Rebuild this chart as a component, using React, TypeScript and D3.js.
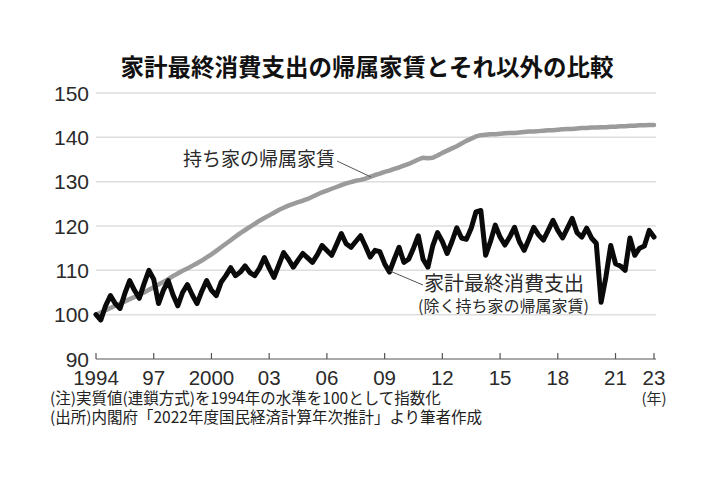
import * as d3 from "d3";
import React from "react";

// 四半期データ（1994年Q1〜2023年Q1）、1994年=100
const startYear = 1994;

const imputedRent = [
  100.0, 100.5, 101.0, 101.5,
  102.0, 102.5, 103.0, 103.5,
  104.0, 104.5, 105.0, 105.6,
  106.2, 106.8, 107.4, 108.0,
  108.7, 109.3, 109.9, 110.4,
  111.0, 111.6, 112.2, 112.9,
  113.6, 114.4, 115.2, 116.0,
  116.8, 117.6, 118.4, 119.1,
  119.8, 120.5, 121.2, 121.8,
  122.4, 123.0, 123.6, 124.1,
  124.6, 125.0, 125.4, 125.7,
  126.1, 126.6, 127.1, 127.6,
  128.0, 128.4, 128.8, 129.2,
  129.6, 129.9, 130.2, 130.4,
  130.7, 131.1, 131.5, 131.8,
  132.2, 132.5, 132.9, 133.2,
  133.6, 134.0, 134.5, 135.0,
  135.4, 135.3, 135.4, 135.9,
  136.5, 137.0, 137.5, 138.0,
  138.6, 139.2, 139.7, 140.2,
  140.5, 140.6, 140.7, 140.7,
  140.8, 140.9, 141.0, 141.0,
  141.1, 141.2, 141.3, 141.3,
  141.4, 141.5, 141.6, 141.6,
  141.7, 141.8, 141.9, 141.9,
  142.0, 142.1, 142.1, 142.2,
  142.2, 142.3, 142.3, 142.4,
  142.4, 142.5, 142.5, 142.6,
  142.6, 142.7, 142.7, 142.8,
  142.8,
];

const otherConsumption = [
  100.0, 98.8, 102.0, 104.3,
  102.5, 101.4, 104.8, 107.7,
  105.5, 103.7, 107.0, 110.0,
  108.0, 102.5, 105.5, 107.7,
  104.5, 102.0, 105.0, 106.8,
  104.5, 102.5, 105.3, 107.7,
  105.5, 104.3, 107.3, 108.8,
  110.6, 108.8, 109.6, 111.0,
  109.5, 108.8, 110.5, 112.9,
  110.5, 108.4, 111.2, 114.0,
  112.5, 110.7, 112.3, 113.8,
  112.8, 111.8, 113.5, 115.6,
  114.5, 113.4, 115.8, 118.3,
  116.0, 115.2, 116.5, 117.8,
  115.5, 113.0, 114.5, 114.2,
  111.5, 109.6, 112.5, 115.2,
  111.8, 112.5, 115.0, 117.8,
  112.5, 110.7, 115.5, 118.5,
  116.5, 113.8, 116.5, 119.6,
  117.3, 117.0, 119.5, 123.2,
  123.5, 113.4, 116.5, 120.2,
  117.5, 115.7, 117.5, 119.7,
  116.5, 114.5, 117.0, 119.7,
  118.0, 116.8, 119.0, 121.3,
  119.0, 117.3, 119.5, 121.7,
  118.5, 117.5, 119.5, 117.3,
  116.1, 102.8, 108.5, 115.6,
  111.5, 111.0, 110.0, 117.3,
  113.4, 115.0, 115.5, 119.0,
  117.5,
];

const yTicks = [90, 100, 110, 120, 130, 140, 150];
const xTicks = [1994, 1997, 2000, 2003, 2006, 2009, 2012, 2015, 2018, 2021, 2023];
const xTickLabels = ["1994", "97", "2000", "03", "06", "09", "12", "15", "18", "21", "23"];

const title = "家計最終消費支出の帰属家賃とそれ以外の比較";
const notes = [
  "(注)実質値(連鎖方式)を1994年の水準を100として指数化",
  "(出所)内閣府「2022年度国民経済計算年次推計」より筆者作成",
];

const numFont = "'Liberation Sans', Arial, sans-serif";
const jpFont = "'Noto Sans CJK JP', sans-serif";

export default function App() {
  const width = 720;
  const height = 480;

  const x = d3.scaleLinear().domain([1994, 2023]).range([96, 654]);
  const y = d3.scaleLinear().domain([90, 150]).range([359, 93]);

  const line = d3
    .line<number>()
    .x((_, i) => x(startYear + i / 4))
    .y((d) => y(d))
    .curve(d3.curveLinear);

  return (
    <svg
      width={width}
      height={height}
      style={{ position: "absolute", left: 0, top: 0, background: "#fff" }}
    >
      <rect width={width} height={height} fill="#fff" />

      <text
        x={367}
        y={76}
        textAnchor="middle"
        fontFamily={jpFont}
        fontWeight={700}
        fontSize={23.5}
        fill="#111"
      >
        {title}
      </text>

      {/* grid + y labels */}
      {yTicks.map((t) => (
        <g key={t}>
          {t !== 90 && (
            <line x1={96} x2={656} y1={y(t)} y2={y(t)} stroke="#dedede" strokeWidth={1.5} />
          )}
          <text
            x={89}
            y={y(t) + 7.5}
            textAnchor="end"
            fontFamily={numFont}
            fontSize={21}
            fill="#2a2a2a"
          >
            {t}
          </text>
        </g>
      ))}

      {/* x axis */}
      <line x1={96} x2={656} y1={y(90)} y2={y(90)} stroke="#555" strokeWidth={1.2} />
      {xTicks.map((t, i) => (
        <g key={t}>
          <line x1={x(t)} x2={x(t)} y1={y(90)} y2={y(90) - 6} stroke="#555" strokeWidth={1.2} />
          <text
            x={x(t)}
            y={385}
            textAnchor="middle"
            fontFamily={numFont}
            fontSize={20.5}
            fill="#2a2a2a"
          >
            {xTickLabels[i]}
          </text>
        </g>
      ))}
      <text x={x(2023)} y={404} textAnchor="middle" fontFamily={jpFont} fontSize={15} fill="#2a2a2a">
        (年)
      </text>

      {/* series */}
      <path
        d={line(imputedRent) ?? ""}
        fill="none"
        stroke="#9b9b9b"
        strokeWidth={4.5}
        strokeLinejoin="round"
        strokeLinecap="round"
      />
      <path
        d={line(otherConsumption) ?? ""}
        fill="none"
        stroke="#0a0a0a"
        strokeWidth={5}
        strokeLinejoin="round"
        strokeLinecap="round"
      />

      {/* series labels with leader lines */}
      <line x1={337} y1={161} x2={371} y2={177} stroke="#555" strokeWidth={1} />
      <text x={183} y={166} fontFamily={jpFont} fontSize={19} fill="#2a2a2a">
        持ち家の帰属家賃
      </text>

      <line x1={390} y1={271} x2={423} y2={285} stroke="#555" strokeWidth={1} />
      <text x={424} y={291} fontFamily={jpFont} fontSize={20} fill="#2a2a2a">
        家計最終消費支出
      </text>
      <text x={418} y={312} fontFamily={jpFont} fontSize={16} fill="#2a2a2a">
        (除く持ち家の帰属家賃)
      </text>

      {/* notes */}
      {notes.map((n, i) => (
        <text
          key={i}
          x={50}
          y={404 + i * 19}
          fontFamily={jpFont}
          fontSize={15.5}
          fill="#222"
        >
          {n}
        </text>
      ))}
    </svg>
  );
}
